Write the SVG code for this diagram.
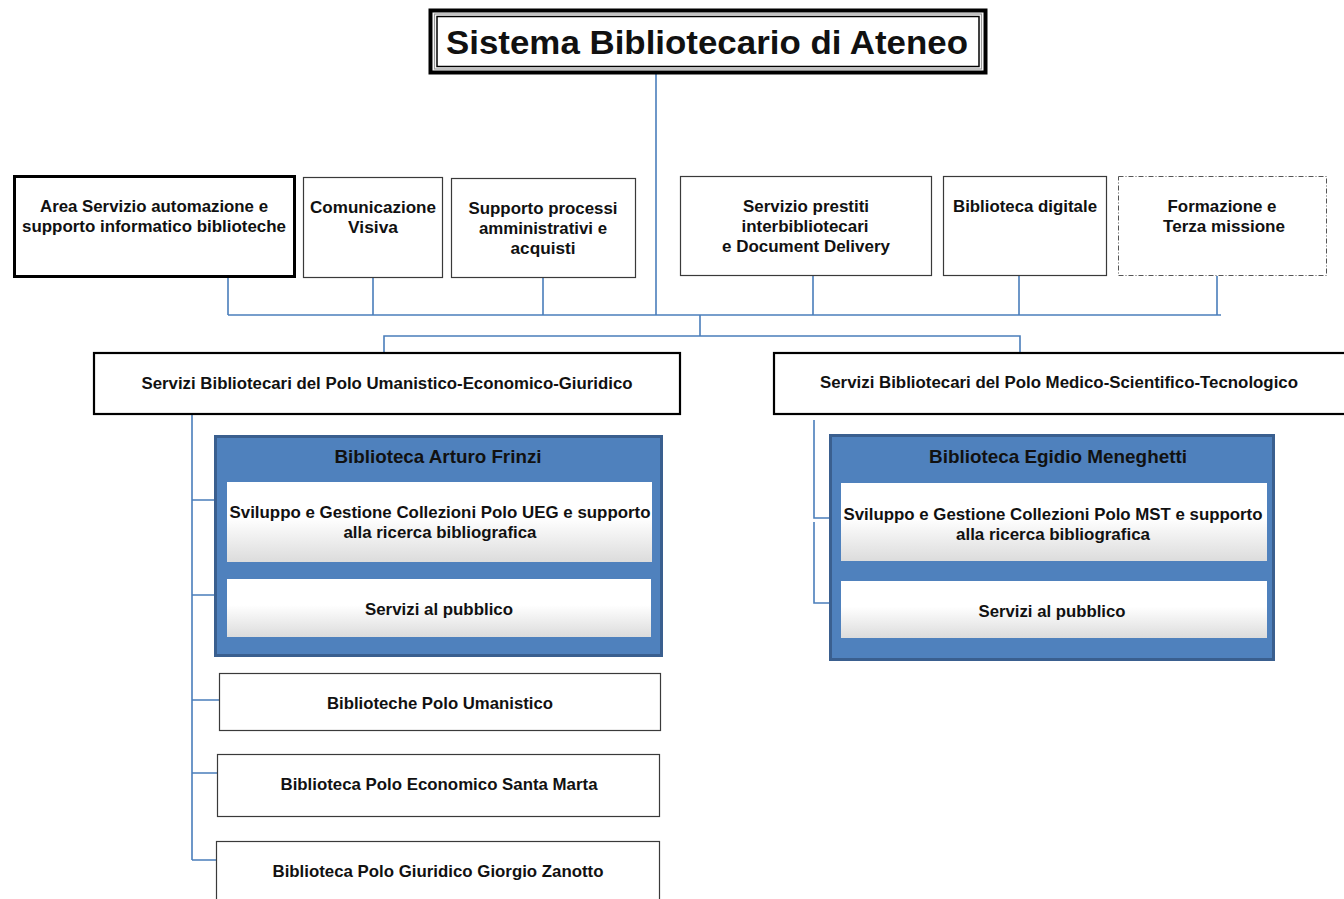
<svg xmlns="http://www.w3.org/2000/svg" width="1344" height="899" viewBox="0 0 1344 899">
<defs>
<linearGradient id="wg" x1="0" y1="0" x2="0" y2="1">
<stop offset="0" stop-color="#FFFFFF"/>
<stop offset="0.45" stop-color="#FFFFFF"/>
<stop offset="1" stop-color="#DCDCDC"/>
</linearGradient>
<style>
text{font-family:"Liberation Sans",Arial,sans-serif;font-weight:bold;fill:#111;text-anchor:middle;}
.t17{font-size:17px;}
.t16{font-size:16px;}
.t19{font-size:19px;}
.box{fill:#fff;stroke:#3a3a3a;stroke-width:1.2;}
.thick{fill:#fff;stroke:#000;stroke-width:3;}
.mid{fill:#fff;stroke:#000;stroke-width:2.2;}
.blue{fill:#4F81BD;stroke:#3A5F8F;stroke-width:3;}
.inner{fill:url(#wg);stroke:none;}
.conn{fill:none;stroke:#4A7EBB;stroke-width:1.6;}
</style>
</defs>
<rect width="1344" height="899" fill="#fff"/>

<g id="connectors">
<path class="conn" d="M656 73 V315"/>
<path class="conn" d="M228 315 H1221"/>
<path class="conn" d="M228 277 V315 M373 278 V315 M543 278 V315 M813 276 V315 M1019 276 V315 M1217 276 V315"/>
<path class="conn" d="M700 315 V336 M384 352 V336 H1020 V352"/>
<path class="conn" d="M192 414 V860 M192 500 H227 M192 595 H227 M192 700 H219 M192 773 H217 M192 860 H216"/>
<path class="conn" d="M814 420 V518 H840 M814 522 V603 H840"/>
</g>

<g id="title">
<rect x="430.5" y="10.5" width="555" height="62" fill="#fff" stroke="#000" stroke-width="4"/>
<rect x="434.5" y="14" width="547" height="55" fill="none" stroke="#9a9a9a" stroke-width="1.2"/>
<rect x="437" y="16.5" width="542" height="50" fill="none" stroke="#000" stroke-width="1.5"/>
<text x="707" y="54" font-size="34" textLength="522" lengthAdjust="spacingAndGlyphs">Sistema Bibliotecario di Ateneo</text>
</g>

<g id="area-automazione">
<rect class="thick" x="14.5" y="176.5" width="280" height="100"/>
<text class="t17" x="154" y="212" textLength="228" lengthAdjust="spacingAndGlyphs">Area Servizio automazione e</text>
<text class="t17" x="154" y="232" textLength="264" lengthAdjust="spacingAndGlyphs">supporto informatico biblioteche</text>
</g>

<g id="comunicazione">
<rect class="box" x="303.5" y="177.5" width="139" height="100"/>
<text class="t17" x="373" y="213" textLength="126" lengthAdjust="spacingAndGlyphs">Comunicazione</text>
<text class="t17" x="373" y="233" textLength="50" lengthAdjust="spacingAndGlyphs">Visiva</text>
</g>

<g id="supporto">
<rect class="box" x="451.5" y="178.5" width="184" height="99"/>
<text class="t17" x="543" y="214" textLength="149" lengthAdjust="spacingAndGlyphs">Supporto processi</text>
<text class="t17" x="543" y="234" textLength="128" lengthAdjust="spacingAndGlyphs">amministrativi e</text>
<text class="t17" x="543" y="254" textLength="65" lengthAdjust="spacingAndGlyphs">acquisti</text>
</g>

<g id="prestiti">
<rect class="box" x="680.5" y="176.5" width="251" height="99"/>
<text class="t17" x="806" y="212" textLength="126" lengthAdjust="spacingAndGlyphs">Servizio prestiti</text>
<text class="t17" x="805" y="232" textLength="127" lengthAdjust="spacingAndGlyphs">interbibliotecari</text>
<text class="t17" x="806" y="252" textLength="168" lengthAdjust="spacingAndGlyphs">e Document Delivery</text>
</g>

<g id="digitale">
<rect class="box" x="943.5" y="176.5" width="163" height="99"/>
<text class="t17" x="1025" y="212" textLength="144" lengthAdjust="spacingAndGlyphs">Biblioteca digitale</text>
</g>

<g id="formazione">
<rect x="1118.5" y="176.5" width="208" height="99" fill="#fff" stroke="#555" stroke-width="1" stroke-dasharray="5 2 1 2"/>
<text class="t17" x="1222" y="212" textLength="109" lengthAdjust="spacingAndGlyphs">Formazione e</text>
<text class="t17" x="1224" y="232" textLength="122" lengthAdjust="spacingAndGlyphs">Terza missione</text>
</g>

<g id="polo-ueg">
<rect class="mid" x="94" y="353" width="586" height="61"/>
<text class="t16" x="387" y="389" textLength="491" lengthAdjust="spacingAndGlyphs">Servizi Bibliotecari del Polo Umanistico-Economico-Giuridico</text>
</g>

<g id="polo-mst">
<rect class="mid" x="774" y="353" width="572" height="61"/>
<text class="t16" x="1059" y="388" textLength="478" lengthAdjust="spacingAndGlyphs">Servizi Bibliotecari del Polo Medico-Scientifico-Tecnologico</text>
</g>

<g id="frinzi">
<rect class="blue" x="215.5" y="436.5" width="446" height="219"/>
<text class="t19" x="438" y="463" textLength="207" lengthAdjust="spacingAndGlyphs">Biblioteca Arturo Frinzi</text>
<rect class="inner" x="227" y="482" width="425" height="80"/>
<text class="t17" x="440" y="518" textLength="421" lengthAdjust="spacingAndGlyphs">Sviluppo e Gestione Collezioni Polo UEG e supporto</text>
<text class="t17" x="440" y="538" textLength="193" lengthAdjust="spacingAndGlyphs">alla ricerca bibliografica</text>
<rect class="inner" x="227" y="579" width="424" height="58"/>
<text class="t17" x="439" y="615" textLength="148" lengthAdjust="spacingAndGlyphs">Servizi al pubblico</text>
</g>

<g id="meneghetti">
<rect class="blue" x="830.5" y="435.5" width="443" height="224"/>
<text class="t19" x="1058" y="463" textLength="258" lengthAdjust="spacingAndGlyphs">Biblioteca Egidio Meneghetti</text>
<rect class="inner" x="841" y="483" width="426" height="78"/>
<text class="t17" x="1053" y="520" textLength="419" lengthAdjust="spacingAndGlyphs">Sviluppo e Gestione Collezioni Polo MST e supporto</text>
<text class="t17" x="1053" y="540" textLength="194" lengthAdjust="spacingAndGlyphs">alla ricerca bibliografica</text>
<rect class="inner" x="841" y="581" width="426" height="57"/>
<text class="t17" x="1052" y="617" textLength="147" lengthAdjust="spacingAndGlyphs">Servizi al pubblico</text>
</g>

<g id="polo-umanistico">
<rect class="box" x="219.5" y="673.5" width="441" height="57"/>
<text class="t17" x="440" y="709" textLength="226" lengthAdjust="spacingAndGlyphs">Biblioteche Polo Umanistico</text>
</g>

<g id="santa-marta">
<rect class="box" x="217.5" y="754.5" width="442" height="62"/>
<text class="t17" x="439" y="790" textLength="317" lengthAdjust="spacingAndGlyphs">Biblioteca Polo Economico Santa Marta</text>
</g>

<g id="zanotto">
<rect class="box" x="216.5" y="841.5" width="443" height="70"/>
<text class="t17" x="438" y="877" textLength="331" lengthAdjust="spacingAndGlyphs">Biblioteca Polo Giuridico Giorgio Zanotto</text>
</g>
</svg>
